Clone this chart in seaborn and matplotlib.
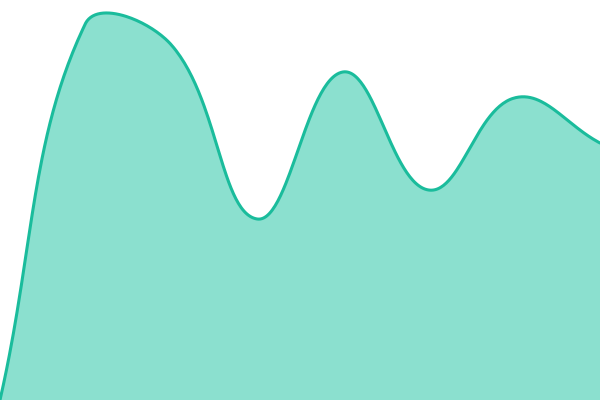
import numpy as np
import pandas as pd
import matplotlib
matplotlib.use("Agg")
import matplotlib.pyplot as plt
import seaborn as sns

# data (one point per category, y axis 0..400)
categories = list(range(8))
values = [0, 377, 355, 181, 328, 210, 302, 257]

line_color = "#1abc9c"
fill_color = "#8be0cf"
tension = 0.4


def spline_path(px, py, t, box, steps=60):
    """Tension spline (control points capped to the plot box), in pixels."""
    pts = np.column_stack([px, py]).astype(float)
    n = len(pts)
    cps = []
    for i in range(n):
        prev = pts[max(i - 1, 0)]
        cur = pts[i]
        nxt = pts[min(i + 1, n - 1)]
        d01 = np.hypot(*(cur - prev))
        d12 = np.hypot(*(nxt - cur))
        s01 = d01 / (d01 + d12)
        s12 = d12 / (d01 + d12)
        before = cur - t * s01 * (nxt - prev)
        after = cur + t * s12 * (nxt - prev)
        before = np.clip(before, box[0], box[1])
        after = np.clip(after, box[0], box[1])
        cps.append((before, after))
    xs, ys = [pts[0, 0]], [pts[0, 1]]
    u = np.linspace(0, 1, steps)[1:]
    for i in range(n - 1):
        p0, c0, c1, p1 = pts[i], cps[i][1], cps[i + 1][0], pts[i + 1]
        bez = ((1 - u) ** 3)[:, None] * p0 + (3 * (1 - u) ** 2 * u)[:, None] * c0 \
            + (3 * (1 - u) * u ** 2)[:, None] * c1 + (u ** 3)[:, None] * p1
        xs.extend(bez[:, 0])
        ys.extend(bez[:, 1])
    return np.array(xs), np.array(ys)


sns.set_theme(style="white")
fig = plt.figure(figsize=(6, 4), dpi=100)
ax = fig.add_axes([0, 0, 1, 1])
ax.set_xlim(0, len(categories) - 1)
ax.set_ylim(0, 400)
ax.axis("off")

# smooth in pixel space, then map back to data coordinates
disp = ax.transData.transform(np.column_stack([categories, values]))
corners = ax.transData.transform([[0, 0], [len(categories) - 1, 400]])
box = (corners.min(axis=0), corners.max(axis=0))
sx, sy = spline_path(disp[:, 0], disp[:, 1], tension, box)
back = ax.transData.inverted().transform(np.column_stack([sx, sy]))
curve = pd.DataFrame({"x": back[:, 0], "y": back[:, 1]})

ax.fill_between(curve["x"], curve["y"], 0, color=fill_color, linewidth=0)
sns.lineplot(data=curve, x="x", y="y", sort=False, color=line_color,
             linewidth=2.2, ax=ax)
ax.set_xlim(0, len(categories) - 1)
ax.set_ylim(0, 400)

fig.savefig("out.png", dpi=100, facecolor="white")
